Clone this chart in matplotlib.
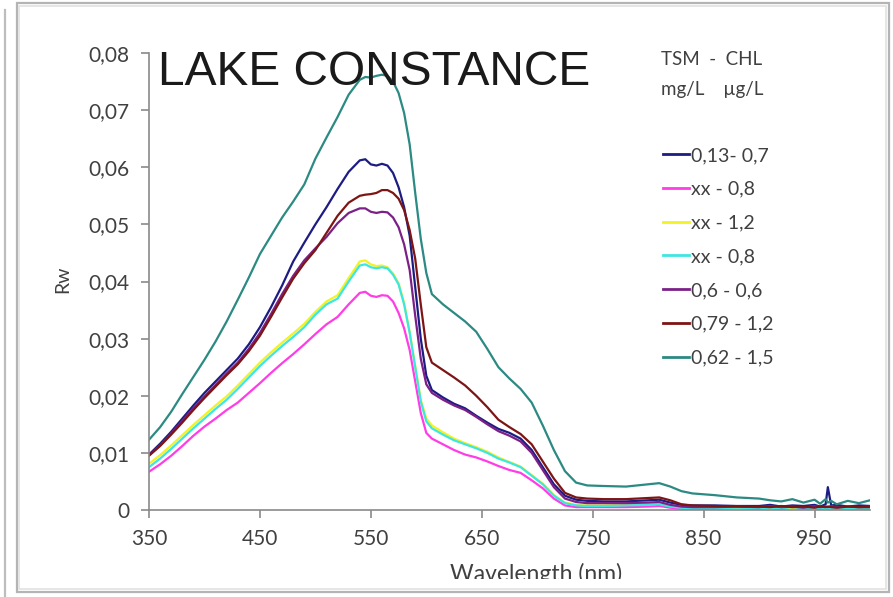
import matplotlib
matplotlib.use("Agg")
import matplotlib.pyplot as plt
from matplotlib.patches import Rectangle
from matplotlib.lines import Line2D
from matplotlib.ticker import FuncFormatter

# Wavelength grid (nm)
wavelength = [350, 360, 370, 380, 390, 400, 410, 420, 430, 440, 450, 460, 470, 480, 490, 500, 510, 520, 530, 540,
              545, 550, 555, 560, 565, 570, 575, 580, 585, 590, 595, 600,
              605, 615, 625, 635, 645, 655, 665, 675, 685, 695, 705, 715, 725, 735,
              745, 760, 780, 800, 810, 820, 830,
              840, 860, 880, 900, 910, 920, 930, 940, 950, 955, 960, 962, 965, 970, 980, 990, 1000]

# Reflectance spectra Rw for each station (TSM mg/L - CHL ug/L)
rw_013_07 = [.0097, .0116, .0137, .0160, .0183, .0205, .0225, .0245, .0265, .0290, .0320, .0355, .0393, .0435, .0468, .0500, .0530, .0562, .0592, .0612,
             .0614, .0605, .0603, .0606, .0603, .0590, .0565, .0530, .0480, .0390, .0300, .0235,
             .0210, .0197, .0186, .0178, .0165, .0153, .0142, .0135, .0125, .0105, .0075, .0045, .0025, .0018,
             .0016, .0015, .0015, .0017, .0018, .0013, .0009,
             .0008, .0008, .0007, .0007, .0009, .0006, .0008, .0007, .0009, .0006, .0010, .0040, .0008, .0009, .0006, .0008, .0007]
rw_xx_08a = [.0067, .0080, .0095, .0112, .0130, .0146, .0160, .0175, .0188, .0205, .0222, .0240, .0257, .0273, .0290, .0308, .0325, .0338, .0360, .0380,
             .0382, .0375, .0373, .0376, .0375, .0365, .0345, .0318, .0280, .0225, .0170, .0135,
             .0125, .0115, .0105, .0097, .0092, .0085, .0077, .0070, .0065, .0052, .0038, .0020, .0008, .0005,
             .0005, .0005, .0005, .0006, .0007, .0004, .0002,
             .0002, .0002, .0003, .0002, .0003, .0002, .0004, .0002, .0003, .0002, .0003, .0002, .0003, .0002, .0003, .0002, .0002]
rw_xx_12 = [.0081, .0096, .0113, .0131, .0149, .0166, .0183, .0199, .0218, .0238, .0258, .0276, .0293, .0309, .0326, .0347, .0365, .0376, .0406, .0435,
            .0437, .0430, .0427, .0428, .0425, .0414, .0397, .0362, .0312, .0252, .0193, .0160,
            .0148, .0136, .0125, .0117, .0110, .0102, .0092, .0084, .0076, .0061, .0046, .0026, .0013, .0009,
            .0008, .0008, .0009, .0010, .0011, .0007, .0005,
            .0004, .0004, .0003, .0004, .0003, .0005, .0003, .0004, .0003, .0005, .0003, .0004, .0006, .0003, .0004, .0003, .0004]
rw_xx_08b = [.0075, .0090, .0107, .0125, .0143, .0160, .0177, .0193, .0212, .0232, .0252, .0270, .0287, .0303, .0320, .0342, .0360, .0370, .0400, .0428,
             .0430, .0425, .0423, .0425, .0423, .0412, .0395, .0360, .0310, .0250, .0190, .0155,
             .0143, .0132, .0122, .0115, .0108, .0100, .0090, .0083, .0075, .0060, .0045, .0025, .0012, .0008,
             .0007, .0007, .0008, .0009, .0010, .0006, .0004,
             .0003, .0003, .0004, .0003, .0004, .0003, .0005, .0003, .0004, .0003, .0004, .0003, .0003, .0004, .0003, .0004, .0003]
rw_06_06 = [.0096, .0113, .0134, .0156, .0178, .0199, .0219, .0239, .0258, .0282, .0310, .0343, .0378, .0410, .0437, .0458, .0478, .0502, .0520, .0528,
            .0528, .0522, .0520, .0522, .0521, .0512, .0495, .0465, .0420, .0340, .0265, .0220,
            .0205, .0193, .0183, .0175, .0163, .0150, .0138, .0130, .0120, .0100, .0070, .0040, .0020, .0014,
            .0012, .0012, .0012, .0013, .0014, .0009, .0006,
            .0005, .0005, .0006, .0005, .0007, .0005, .0006, .0004, .0007, .0005, .0006, .0005, .0007, .0005, .0006, .0005, .0006]
rw_079_12 = [.0095, .0112, .0132, .0153, .0175, .0196, .0216, .0236, .0255, .0278, .0305, .0338, .0372, .0405, .0432, .0455, .0485, .0515, .0538, .0550,
             .0552, .0553, .0555, .0560, .0560, .0555, .0545, .0525, .0490, .0440, .0360, .0285,
             .0258, .0245, .0232, .0218, .0200, .0180, .0158, .0145, .0133, .0115, .0085, .0055, .0030, .0022,
             .0020, .0019, .0019, .0021, .0022, .0017, .0010,
             .0008, .0007, .0006, .0006, .0005, .0007, .0005, .0006, .0004, .0006, .0005, .0006, .0005, .0004, .0006, .0005, .0005]
rw_062_15 = [.0123, .0145, .0172, .0203, .0233, .0263, .0295, .0330, .0368, .0407, .0448, .0480, .0512, .0540, .0570, .0615, .0652, .0688, .0727, .0753,
             .0758, .0757, .0760, .0762, .0760, .0750, .0730, .0695, .0640, .0555, .0475, .0415,
             .0378, .0360, .0345, .0330, .0312, .0282, .0250, .0230, .0212, .0188, .0148, .0105, .0068, .0048,
             .0043, .0042, .0041, .0045, .0047, .0041, .0033,
             .0029, .0026, .0022, .0020, .0017, .0015, .0019, .0013, .0018, .0011, .0019, .0013, .0016, .0010, .0016, .0012, .0017]

series = [rw_013_07, rw_xx_08a, rw_xx_12, rw_xx_08b, rw_06_06, rw_079_12, rw_062_15]
labels = ["0,13- 0,7", "xx - 0,8", "xx - 1,2", "xx - 0,8", "0,6 - 0,6", "0,79 - 1,2", "0,62 - 1,5"]
colors = ["#1c1c82", "#ff3ce6", "#f2f224", "#3ee6e0", "#7b2087", "#7d1515", "#2b8a82"]

y_ticks = [0, 0.01, 0.02, 0.03, 0.04, 0.05, 0.06, 0.07, 0.08]
x_ticks = [350, 450, 550, 650, 750, 850, 950]

W, H = 893, 597
fig = plt.figure(figsize=(W / 100, H / 100), dpi=100)
fig.patch.set_facecolor("white")

ax = fig.add_axes([149 / W, 1 - 510 / H, 721 / W, 457 / H])
for y, lab, col in zip(series, labels, colors):
    ax.plot(wavelength, y, color=col, lw=1.6, label=lab, solid_joinstyle="round")

ax.set_xlim(350, 1000)
ax.set_ylim(0, 0.08)
ax.set_xticks(x_ticks)
ax.set_yticks(y_ticks)
ax.yaxis.set_major_formatter(FuncFormatter(lambda v, p: "0" if v == 0 else f"{v:.2f}".replace(".", ",")))

axis_gray = "#8a8a8a"
text_gray = "#404040"
for side in ["top", "right"]:
    ax.spines[side].set_visible(False)
for side in ["left", "bottom"]:
    ax.spines[side].set_color(axis_gray)
    ax.spines[side].set_linewidth(1.2)
ax.tick_params(axis="both", colors=axis_gray, length=6, width=1.2, labelcolor=text_gray,
               labelsize=15)
ax.tick_params(axis="y", pad=8)
ax.tick_params(axis="x", pad=8)
for lab in ax.get_xticklabels() + ax.get_yticklabels():
    lab.set_family("Lato")

ax.set_xlabel("Wavelength (nm)", fontsize=16.5, color=text_gray, family="Lato")
ax.set_ylabel("Rw", fontsize=14, color=text_gray, family="Lato")
ax.xaxis.set_label_coords(0.537, -0.115)
ax.yaxis.set_label_coords(-0.108, 0.505)

# Title inside the plot area
fig.text(158 / W, 1 - 85 / H, "LAKE CONSTANCE", fontsize=34.5, family="Liberation Sans",
         color="#1a1a1a", va="baseline", ha="left")

# Legend header
fig.text(661 / W, 1 - 65 / H, "TSM  -  CHL", fontsize=13.5, family="Lato", color=text_gray, va="baseline")
fig.text(661 / W, 1 - 95 / H, "mg/L    \u00b5g/L", fontsize=13.5, family="Lato", color=text_gray, va="baseline")

leg = ax.legend(loc="upper left", bbox_to_anchor=(663 / W, 1 - 147 / H), bbox_transform=fig.transFigure,
                frameon=False, handlelength=1.35, handletextpad=0.1,
                labelspacing=0.86, borderpad=0, borderaxespad=0, prop={"family": "Lato", "size": 14})
for t in leg.get_texts():
    t.set_color(text_gray)
for h in leg.get_lines():
    h.set_linewidth(2.0)

# Page frame: white card with grey border; text below the card edge is hidden
fig.add_artist(Rectangle((0, 0), 1, 1 - 579 / H, transform=fig.transFigure, facecolor="white",
                         edgecolor="none", zorder=5))
fig.add_artist(Rectangle((17 / W, 1 - 592 / H), (889 - 17) / W, (592 - 3) / H, transform=fig.transFigure,
                         facecolor="none", edgecolor="#b4b4b4", lw=1.6, zorder=6))
fig.add_artist(Rectangle((19 / W, 1 - 589 / H), (886 - 19) / W, (589 - 6) / H, transform=fig.transFigure,
                         facecolor="none", edgecolor="#e2e2e2", lw=1.2, zorder=6))
fig.add_artist(Line2D([5 / W, 5 / W], [0, 1 - 10 / H], transform=fig.transFigure, color="#bdbdbd",
                      lw=1.6, zorder=6))

fig.savefig("out.png", dpi=100, facecolor="white")
